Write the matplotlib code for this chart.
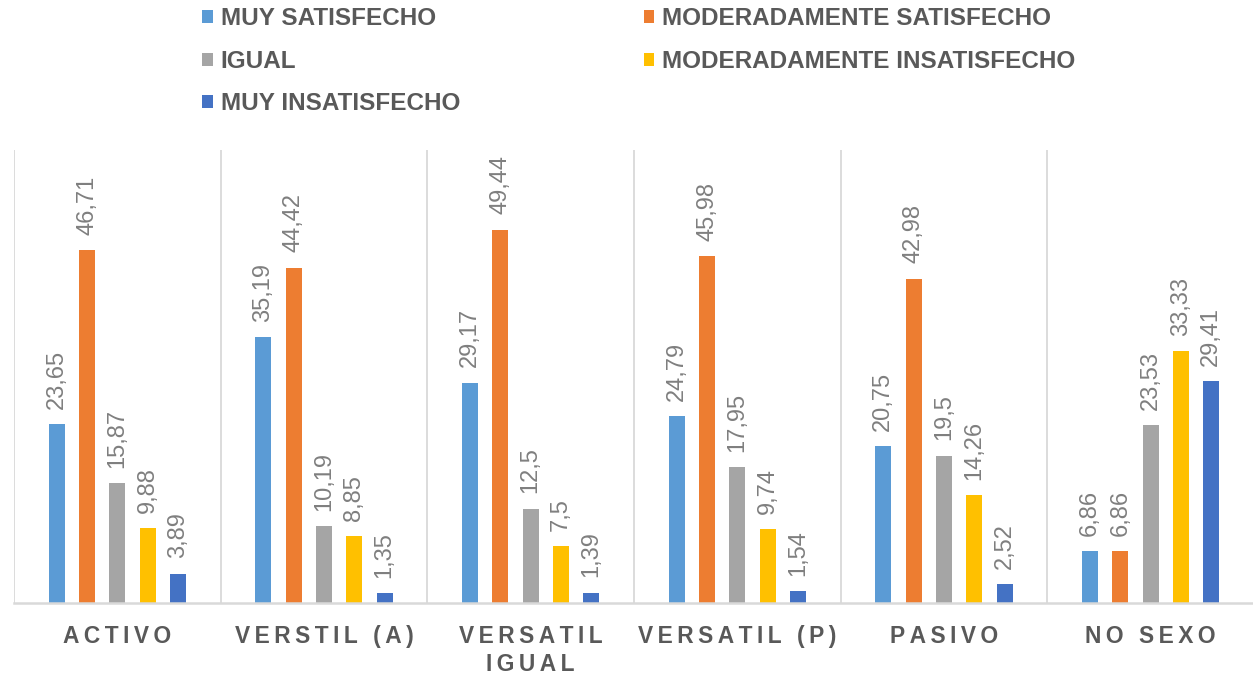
import numpy as np
import matplotlib
matplotlib.use("Agg")
import matplotlib.pyplot as plt

# -----------------------------
# Data
# -----------------------------
categories = ["ACTIVO", "VERSTIL (A)", "VERSATIL\nIGUAL", "VERSATIL (P)", "PASIVO", "NO SEXO"]
series_names = [
    "MUY SATISFECHO",
    "MODERADAMENTE SATISFECHO",
    "IGUAL",
    "MODERADAMENTE INSATISFECHO",
    "MUY INSATISFECHO",
]
muy_satisfecho = [23.65, 35.19, 29.17, 24.79, 20.75, 6.86]
mod_satisfecho = [46.71, 44.42, 49.44, 45.98, 42.98, 6.86]
igual = [15.87, 10.19, 12.5, 17.95, 19.5, 23.53]
mod_insatisfecho = [9.88, 8.85, 7.5, 9.74, 14.26, 33.33]
muy_insatisfecho = [3.89, 1.35, 1.39, 1.54, 2.52, 29.41]

series_values = [muy_satisfecho, mod_satisfecho, igual, mod_insatisfecho, muy_insatisfecho]
colors = ["#5B9BD5", "#ED7D31", "#A5A5A5", "#FFC000", "#4472C4"]

plt.rcParams["font.family"] = ["Liberation Sans", "DejaVu Sans"]

TEXT_DARK = "#595959"
TEXT_LABEL = "#7F7F7F"
GRID = "#D9D9D9"


def spaced(s, sep="\u2009"):
    # imitate the letter spacing of the category labels
    return "\n".join(sep.join(line) for line in s.split("\n"))


# -----------------------------
# Figure
# -----------------------------
W, H = 1253, 676
fig = plt.figure(figsize=(W / 100, H / 100), dpi=100)
ax = fig.add_axes([14 / W, 73 / H, 1240 / W, 453 / H])

x = np.arange(len(categories))
step = 0.1467
width = 0.0775

bars = []
for j, (name, vals, col) in enumerate(zip(series_names, series_values, colors)):
    pos = x + (j - 2) * step
    b = ax.bar(pos, vals, width=width, color=col, label=name, zorder=2)
    bars.append(b)
    for px, v in zip(pos, vals):
        ax.annotate(
            f"{v:g}".replace(".", ","),
            xy=(px, v), xytext=(0, 11), textcoords="offset points",
            rotation=90, ha="center", va="bottom",
            fontsize=17, color=TEXT_LABEL,
        )

# separators between categories
for k in range(len(categories) + 1):
    ax.axvline(k - 0.5, color=GRID, linewidth=1.3, zorder=1)

ax.set_xlim(-0.5, len(categories) - 0.5)
ax.set_ylim(0, 60)
ax.set_yticks([])
for side in ["top", "left", "right"]:
    ax.spines[side].set_visible(False)
ax.spines["bottom"].set_color(GRID)
ax.spines["bottom"].set_linewidth(1.8)

ax.set_xticks(x)
ax.set_xticklabels([spaced(c) for c in categories], fontsize=16.4, fontweight="bold",
                   color=TEXT_DARK, linespacing=1.3)
ax.tick_params(axis="x", length=0, pad=15.5)

# legend: row-major order in two columns
order = [0, 2, 4, 1, 3]
leg = fig.legend(
    [bars[i] for i in order], [series_names[i] for i in order],
    ncol=2, loc="upper left", bbox_to_anchor=(200 / W, 1 - 5 / H),
    frameon=False, prop={"weight": "bold", "size": 17.5},
    handlelength=0.45, handleheight=0.45, handletextpad=0.3,
    columnspacing=7.55, labelspacing=0.8, borderpad=0.1, borderaxespad=0.0,
)
for t in leg.get_texts():
    t.set_color(TEXT_DARK)

fig.savefig("out.png", dpi=100)
